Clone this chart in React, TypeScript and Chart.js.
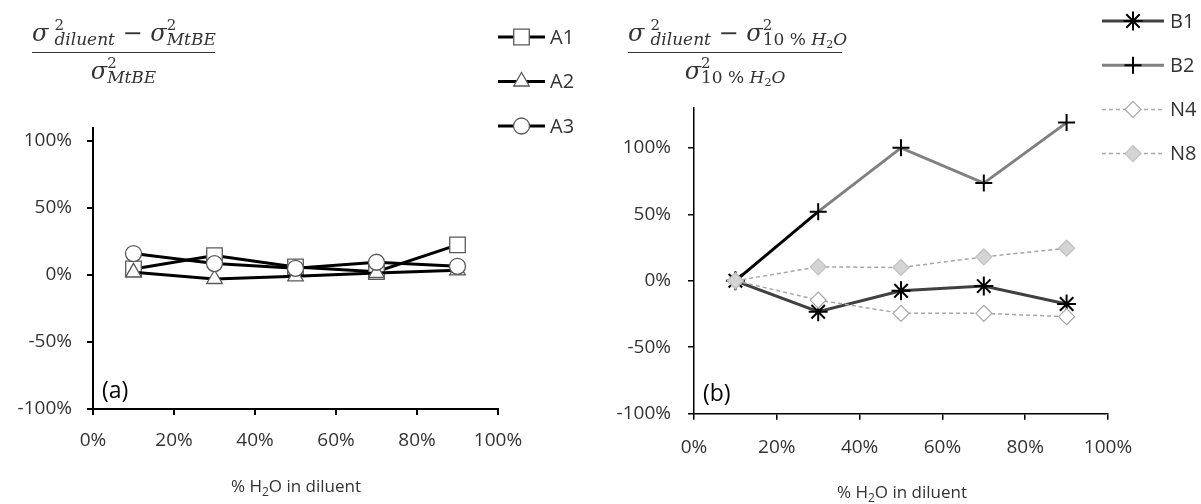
import React, { useEffect, useRef } from 'react';
import { Chart, registerables } from 'chart.js';
import { drawPoint } from 'chart.js/helpers';

Chart.register(...registerables);

// ---------- data ----------
const xPositions = [10, 30, 50, 70, 90];
const xTickValues = [0, 20, 40, 60, 80, 100];
const yTickValues = [-100, -50, 0, 50, 100];

const seriesA1 = [4.5, 14.5, 6, 2.5, 22.5];
const seriesA2 = [2, -3, -1, 1.5, 3.5];
const seriesA3 = [16, 8.5, 5, 9.5, 6.5];

const seriesB1 = [0, -23.3, -7.5, -4, -17.5];
const seriesB2 = [0, 52, 100, 73.5, 119];
const seriesN4 = [0, -14.5, -24.5, -24.5, -27];
const seriesN8 = [0, 10.5, 10, 18, 24.5];

const leftNames = ['A1', 'A2', 'A3'];
const rightNames = ['B1', 'B2', 'N4', 'N8'];

// ---------- styles ----------
const FONT = '"Open Sans", Lato, sans-serif';
const MATH_FONT = '"DejaVu Serif", "Liberation Serif", serif';
const TEXT = '#333333';
const AXIS = '#000000';
const TICK_SIZE = 19;
const LEGEND_SIZE = 20;

const pts = (arr: number[]) => xPositions.map((x, i) => ({ x, y: arr[i] }));

type LegendCfg = { x0: number; x1: number; y0: number; gap: number; textX: number };

const makeLegend = (cfg: LegendCfg) => ({
  id: 'customLegend',
  afterDraw(chart: any) {
    const ctx = chart.ctx as CanvasRenderingContext2D;
    chart.data.datasets.forEach((ds: any, i: number) => {
      const y = cfg.y0 + i * cfg.gap;
      ctx.save();
      ctx.strokeStyle = ds.borderColor;
      ctx.lineWidth = ds.borderWidth;
      ctx.setLineDash(ds.borderDash || []);
      ctx.beginPath();
      ctx.moveTo(cfg.x0, y);
      ctx.lineTo(cfg.x1, y);
      ctx.stroke();
      ctx.setLineDash([]);
      ctx.fillStyle = ds.pointBackgroundColor;
      ctx.strokeStyle = ds.pointBorderColor;
      ctx.lineWidth = ds.pointBorderWidth;
      drawPoint(
        ctx,
        { pointStyle: ds.pointStyle, radius: ds.pointRadius, rotation: 0, borderWidth: ds.pointBorderWidth } as any,
        (cfg.x0 + cfg.x1) / 2,
        y
      );
      ctx.fillStyle = TEXT;
      ctx.font = `${LEGEND_SIZE}px ${FONT}`;
      ctx.textBaseline = 'middle';
      ctx.textAlign = 'left';
      ctx.fillText(ds.label, cfg.textX, y + 1);
      ctx.restore();
    });
  },
});

type ScaleCfg = { yMax: number; yWidth: number; xHeight: number; borderWidth: number; xPad: number; yPad: number };

const makeScales = (o: ScaleCfg): any => ({
  x: {
    type: 'linear',
    min: 0,
    max: 100,
    afterBuildTicks: (axis: any) => {
      axis.ticks = xTickValues.map((v) => ({ value: v }));
    },
    afterFit: (axis: any) => {
      axis.height = o.xHeight;
    },
    ticks: {
      callback: (v: any) => v + '%',
      color: TEXT,
      font: { family: FONT, size: TICK_SIZE },
      padding: o.xPad,
      maxRotation: 0,
      autoSkip: false,
    },
    grid: { drawOnChartArea: false, drawTicks: true, tickLength: 6, color: AXIS, lineWidth: o.borderWidth },
    border: { display: true, color: AXIS, width: o.borderWidth },
  },
  y: {
    type: 'linear',
    min: -100,
    max: o.yMax,
    afterBuildTicks: (axis: any) => {
      axis.ticks = yTickValues.map((v) => ({ value: v }));
    },
    afterFit: (axis: any) => {
      axis.width = o.yWidth;
    },
    ticks: {
      callback: (v: any) => v + '%',
      color: TEXT,
      font: { family: FONT, size: TICK_SIZE },
      padding: o.yPad,
      autoSkip: false,
    },
    grid: { drawOnChartArea: false, drawTicks: true, tickLength: 6, color: AXIS, lineWidth: o.borderWidth },
    border: { display: true, color: AXIS, width: o.borderWidth },
  },
});

const buildLeft = (canvas: HTMLCanvasElement) => {
  const common = {
    borderColor: '#000000',
    borderWidth: 3,
    pointBackgroundColor: '#ffffff',
    pointBorderColor: '#595959',
    pointBorderWidth: 1.3,
    tension: 0,
  };
  return new Chart(canvas, {
    type: 'line',
    data: {
      datasets: [
        { ...common, label: leftNames[0], data: pts(seriesA1), pointStyle: 'rect', pointRadius: 11, order: 3 },
        { ...common, label: leftNames[1], data: pts(seriesA2), pointStyle: 'triangle', pointRadius: 9, order: 2 },
        { ...common, label: leftNames[2], data: pts(seriesA3), pointStyle: 'circle', pointRadius: 8, order: 1 },
      ] as any,
    },
    options: {
      animation: false,
      responsive: false,
      devicePixelRatio: 1,
      events: [],
      layout: { padding: { left: 0, right: 102, top: 127.6, bottom: 0 } },
      plugins: { legend: { display: false }, tooltip: { enabled: false } },
      scales: makeScales({ yMax: 110, yWidth: 93, xHeight: 95, borderWidth: 2, xPad: 14, yPad: 15 }),
    },
    plugins: [makeLegend({ x0: 498, x1: 545, y0: 37, gap: 44.5, textX: 550 })],
  });
};

const buildRight = (canvas: HTMLCanvasElement) => {
  return new Chart(canvas, {
    type: 'line',
    data: {
      datasets: [
        {
          label: rightNames[0],
          data: pts(seriesB1),
          borderColor: '#404040',
          borderWidth: 3,
          pointStyle: 'star',
          pointRadius: 9.5,
          pointBorderColor: '#000000',
          pointBackgroundColor: '#000000',
          pointBorderWidth: 2,
          tension: 0,
          order: 4,
        },
        {
          label: rightNames[1],
          data: pts(seriesB2),
          borderColor: '#808080',
          borderWidth: 3,
          pointStyle: 'cross',
          pointRadius: 8.5,
          pointBorderColor: '#000000',
          pointBackgroundColor: '#000000',
          pointBorderWidth: 2,
          tension: 0,
          order: 3,
          segment: { borderColor: (c: any) => (c.p0DataIndex === 0 ? '#000000' : undefined) },
        },
        {
          label: rightNames[2],
          data: pts(seriesN4),
          borderColor: '#a6a6a6',
          borderWidth: 1.5,
          borderDash: [4, 3],
          pointStyle: 'rectRot',
          pointRadius: 8,
          pointBorderColor: '#a6a6a6',
          pointBackgroundColor: '#ffffff',
          pointBorderWidth: 1.2,
          tension: 0,
          order: 2,
        },
        {
          label: rightNames[3],
          data: pts(seriesN8),
          borderColor: '#a6a6a6',
          borderWidth: 1.5,
          borderDash: [4, 3],
          pointStyle: 'rectRot',
          pointRadius: 8,
          pointBorderColor: '#bfbfbf',
          pointBackgroundColor: '#d4d4d4',
          pointBorderWidth: 1.2,
          tension: 0,
          order: 1,
        },
      ] as any,
    },
    options: {
      animation: false,
      responsive: false,
      devicePixelRatio: 1,
      events: [],
      layout: { padding: { left: 0, right: 93, top: 108, bottom: 0 } },
      plugins: { legend: { display: false }, tooltip: { enabled: false } },
      scales: makeScales({ yMax: 130, yWidth: 94, xHeight: 90.3, borderWidth: 1.5, xPad: 16, yPad: 17 }),
    },
    plugins: [makeLegend({ x0: 502, x1: 564, y0: 21, gap: 44.2, textX: 570 })],
  });
};

function ChartCanvas({ left, width, build }: { left: number; width: number; build: (c: HTMLCanvasElement) => Chart }) {
  const ref = useRef<HTMLCanvasElement>(null);
  useEffect(() => {
    const chart = build(ref.current as HTMLCanvasElement);
    return () => chart.destroy();
  }, []);
  return (
    <canvas
      ref={ref}
      width={width}
      height={504}
      style={{ position: 'absolute', left, top: 0, width, height: 504, display: 'block' }}
    />
  );
}

function Stack({ sub, gap = 0 }: { sub: React.ReactNode; gap?: number }) {
  return (
    <span
      style={{
        position: 'relative',
        display: 'inline-block',
        fontSize: 17,
        verticalAlign: '-4px',
        marginLeft: gap,
        whiteSpace: 'nowrap',
        lineHeight: '18px',
      }}
    >
      <span style={{ position: 'absolute', left: 0, top: -14, fontStyle: 'normal', fontSize: 15, lineHeight: '18px' }}>
        2
      </span>
      {sub}
    </span>
  );
}

function Frac({ left, width, num, den }: { left: number; width: number; num: React.ReactNode; den: React.ReactNode }) {
  return (
    <div
      style={{
        position: 'absolute',
        left,
        top: 19,
        width,
        fontFamily: MATH_FONT,
        fontStyle: 'italic',
        fontSize: 24,
        color: TEXT,
        textAlign: 'center',
        whiteSpace: 'nowrap',
      }}
    >
      <div style={{ height: 33, lineHeight: '28px' }}>{num}</div>
      <div style={{ borderTop: `1.5px solid ${TEXT}` }} />
      <div style={{ height: 33, lineHeight: '30px', paddingTop: 3 }}>{den}</div>
    </div>
  );
}

const H2O = () => (
  <span style={{ fontStyle: 'normal' }}>
    10 % <i>H</i>
    <span style={{ fontSize: 11, verticalAlign: '-3px' }}>2</span>
    <i>O</i>
  </span>
);

function AxisTitle({ cx, cy }: { cx: number; cy: number }) {
  return (
    <div
      style={{
        position: 'absolute',
        left: cx - 150,
        top: cy - 12,
        width: 300,
        height: 24,
        lineHeight: '24px',
        textAlign: 'center',
        fontFamily: FONT,
        fontSize: 17,
        color: TEXT,
        whiteSpace: 'nowrap',
      }}
    >
      % H<span style={{ fontSize: 12, verticalAlign: '-4px' }}>2</span>O in diluent
    </div>
  );
}

function PanelLabel({ x, y, text }: { x: number; y: number; text: string }) {
  return (
    <div
      style={{
        position: 'absolute',
        left: x,
        top: y,
        fontFamily: FONT,
        fontSize: 23,
        lineHeight: '28px',
        color: '#000',
      }}
    >
      {text}
    </div>
  );
}

export default function App() {
  return (
    <div
      style={{
        position: 'absolute',
        left: 0,
        top: 0,
        width: 1201,
        height: 504,
        background: '#ffffff',
        overflow: 'hidden',
      }}
    >
      <ChartCanvas left={0} width={600} build={buildLeft} />
      <ChartCanvas left={600} width={601} build={buildRight} />
      <Frac
        left={32}
        width={183}
        num={
          <>
            σ<Stack sub="diluent" gap={6} />
            <span style={{ fontStyle: 'normal' }}> − </span>σ<Stack sub="MtBE" />
          </>
        }
        den={
          <>
            σ<Stack sub="MtBE" />
          </>
        }
      />
      <Frac
        left={628}
        width={214}
        num={
          <>
            σ<Stack sub="diluent" gap={6} />
            <span style={{ fontStyle: 'normal' }}> − </span>σ<Stack sub={<H2O />} />
          </>
        }
        den={
          <>
            σ<Stack sub={<H2O />} />
          </>
        }
      />
      <PanelLabel x={102} y={375} text="(a)" />
      <PanelLabel x={703} y={378} text="(b)" />
      <AxisTitle cx={296} cy={486} />
      <AxisTitle cx={902} cy={492} />
    </div>
  );
}
